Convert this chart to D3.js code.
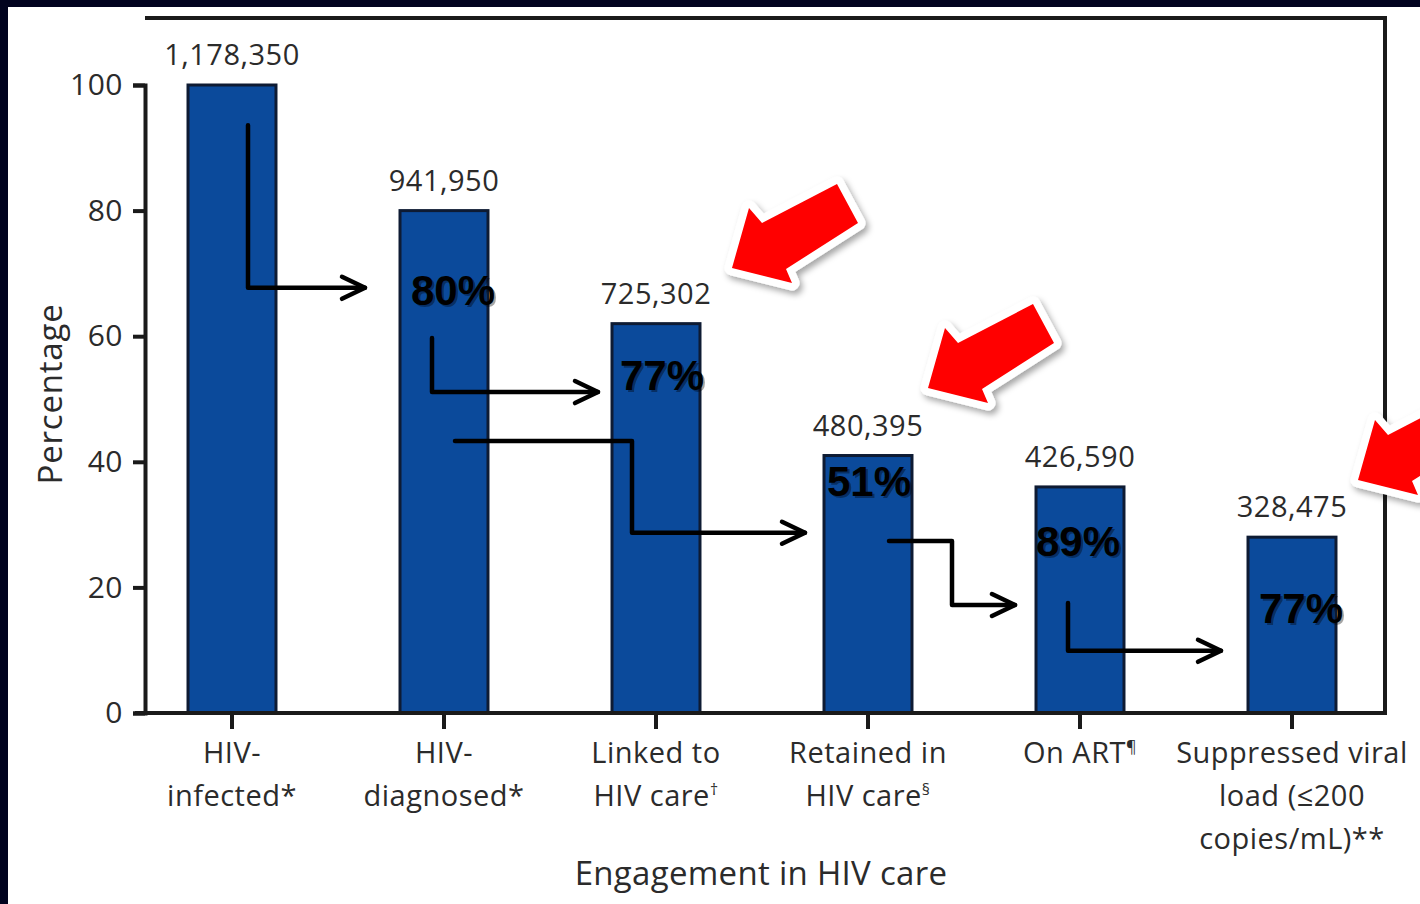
<!DOCTYPE html>
<html>
<head>
<meta charset="utf-8">
<script src="https://cdn.jsdelivr.net/npm/d3@7"></script>
<style>
  html, body { margin: 0; padding: 0; background: #01031f; }
  svg { display: block; }
</style>
</head>
<body>
<svg id="chart" width="1420" height="904"></svg>
<script>
// ---- data ----
const categories = ["HIV-infected", "HIV-diagnosed", "Linked to HIV care", "Retained in HIV care", "On ART", "Suppressed viral load"];
const categoryLines = [
  [["HIV-"], ["infected*"]],
  [["HIV-"], ["diagnosed*"]],
  [["Linked to"], ["HIV care", "†"]],
  [["Retained in"], ["HIV care", "§"]],
  [["On ART", "¶"]],
  [["Suppressed viral"], ["load (≤200"], ["copies/mL)**"]]
];
const percentages = [100, 80, 62, 41, 36, 28];
const counts = ["1,178,350", "941,950", "725,302", "480,395", "426,590", "328,475"];
const yTicks = [0, 20, 40, 60, 80, 100];
const stepLabels = ["80%", "77%", "51%", "89%", "77%"];
// annotation anchors: [bar index, x offset from bar centre, y in percentage units]
const stepLabelAnchors = [[1, 9, 67.4], [2, 6, 53.8], [3, 1, 36.9], [4, -2, 27.4], [5, 9, 16.7]];
const stepArrows = [
  [[0, 16, 93.6], [0, 16, 67.7], [1, -79, 67.7]],
  [[1, -12, 59.7], [1, -12, 51.1], [2, -58, 51.1]],
  [[1, 11, 43.3], [2, -24, 43.3], [2, -24, 28.7], [3, -63, 28.7]],
  [[3, 21, 27.4], [3, 84, 27.4], [3, 84, 17.2], [4, -65, 17.2]],
  [[4, -12, 17.5], [4, -12, 9.9], [5, -71, 9.9]]
];

// ---- layout ----
const svg = d3.select("#chart");
const frame = { left: 145, right: 1385, top: 18, bottom: 713 };
const textColor = "#2b2b2b";
const axisFont = "'Open Sans', 'Noto Sans', sans-serif";

const x = d3.scaleBand().domain(d3.range(categories.length))
  .range([126, 1398]).paddingInner(0.585).paddingOuter(0.2925);
const y = d3.scaleLinear().domain([0, 100]).range([frame.bottom, 85]);
const cx = i => x(i) + x.bandwidth() / 2;

// backgrounds
svg.append("rect").attr("width", 1420).attr("height", 904).attr("fill", "#01031f");
svg.append("rect").attr("x", 8).attr("y", 7).attr("width", 1412).attr("height", 897).attr("fill", "#ffffff");

const defs = svg.append("defs");
const sh = defs.append("filter").attr("id", "shadow").attr("x", "-30%").attr("y", "-30%").attr("width", "160%").attr("height", "160%");
sh.append("feDropShadow").attr("dx", 3).attr("dy", 4).attr("stdDeviation", 3).attr("flood-color", "#000").attr("flood-opacity", 0.35);

// frame (top + right)
svg.append("path")
  .attr("d", `M${frame.left},${frame.top}H${frame.right}V${frame.bottom}`)
  .attr("fill", "none").attr("stroke", "#1a1a1a").attr("stroke-width", 4);

// bars
svg.append("g").selectAll("rect").data(percentages).join("rect")
  .attr("x", (d, i) => x(i))
  .attr("y", d => y(d))
  .attr("width", x.bandwidth())
  .attr("height", d => y(0) - y(d))
  .attr("fill", "#0b4a9b")
  .attr("stroke", "#0e1b33")
  .attr("stroke-width", 3);

// y axis
const yAxis = svg.append("g").attr("transform", `translate(${frame.left},0)`)
  .call(d3.axisLeft(y).tickValues(yTicks).tickSize(12).tickPadding(10));
yAxis.select(".domain").attr("stroke", "#1a1a1a").attr("stroke-width", 4);
yAxis.selectAll(".tick line").attr("stroke", "#1a1a1a").attr("stroke-width", 4);
yAxis.selectAll(".tick text").attr("font-family", axisFont).attr("font-size", 30)
  .attr("fill", textColor).attr("letter-spacing", 0.5);

// x axis
const xAxis = svg.append("g").attr("transform", `translate(0,${frame.bottom})`)
  .call(d3.axisBottom(x).tickSize(16).tickFormat(""));
xAxis.select(".domain").attr("d", `M${frame.left - 10},0H${frame.right + 2}`)
  .attr("stroke", "#1a1a1a").attr("stroke-width", 4);
xAxis.selectAll(".tick line").attr("stroke", "#1a1a1a").attr("stroke-width", 4);

// category labels
const catG = svg.append("g").attr("font-family", axisFont).attr("font-size", 29).attr("fill", textColor)
  .attr("text-anchor", "middle").attr("letter-spacing", 0.5);
categoryLines.forEach((lines, i) => {
  lines.forEach((parts, j) => {
    const t = catG.append("text").attr("x", cx(i)).attr("y", 763 + j * 43);
    t.append("tspan").text(parts[0]);
    if (parts[1]) t.append("tspan").attr("font-size", 16).attr("dy", -11).text(parts[1]);
  });
});

// count labels
svg.append("g").selectAll("text").data(counts).join("text")
  .attr("x", (d, i) => cx(i))
  .attr("y", (d, i) => y(percentages[i]) - 20)
  .attr("text-anchor", "middle")
  .attr("font-family", axisFont).attr("font-size", 29).attr("fill", textColor)
  .attr("letter-spacing", 0.5)
  .text(d => d);

// axis titles
svg.append("text").attr("x", 761).attr("y", 885).attr("text-anchor", "middle")
  .attr("font-family", axisFont).attr("font-size", 33).attr("fill", textColor)
  .attr("letter-spacing", 0.3)
  .text("Engagement in HIV care");
svg.append("text").attr("transform", "translate(62,394) rotate(-90)").attr("text-anchor", "middle")
  .attr("font-family", axisFont).attr("font-size", 33).attr("fill", textColor)
  .attr("letter-spacing", 0.8)
  .text("Percentage");

// step arrows
const toPx = p => [cx(p[0]) + p[1], y(p[2])];
const arrowG = svg.append("g").attr("fill", "none").attr("stroke", "#000").attr("stroke-width", 4.5)
  .attr("stroke-linecap", "round").attr("stroke-linejoin", "round");
stepArrows.forEach(pts => {
  const px = pts.map(toPx);
  arrowG.append("path").attr("d", d3.line()(px));
  const tip = px[px.length - 1];
  arrowG.append("path").attr("d", `M${tip[0] - 23},${tip[1] - 11}L${tip[0]},${tip[1]}L${tip[0] - 23},${tip[1] + 11}`);
});

// step percentage labels
const pctG = svg.append("g").attr("font-family", "'Liberation Sans', Arial, sans-serif")
  .attr("font-weight", "bold").attr("font-size", 42).attr("text-anchor", "middle");
stepLabels.forEach((s, k) => {
  const [px, py] = toPx(stepLabelAnchors[k]);
  pctG.append("text").attr("x", px + 2).attr("y", py + 15 + 2).attr("fill", "#000").attr("opacity", 0.35).text(s);
  pctG.append("text").attr("x", px).attr("y", py + 15).attr("fill", "#000").text(s);
});

// red callout arrows
const redShape = [[0, 0], [17, -60], [30, -45], [105, -84], [126, -45], [54, 1], [60, 15]];
const redTips = [[732, 268], [928, 388], [1358, 480]];
const redG = svg.append("g");
redTips.forEach(t => {
  redG.append("polygon")
    .attr("points", redShape.map(p => [t[0] + p[0], t[1] + p[1]].join(",")).join(" "))
    .attr("fill", "#ff0000").attr("stroke", "#ffffff").attr("stroke-width", 15)
    .attr("paint-order", "stroke")
    .attr("stroke-linejoin", "round").attr("filter", "url(#shadow)");
});
</script>
</body>
</html>
